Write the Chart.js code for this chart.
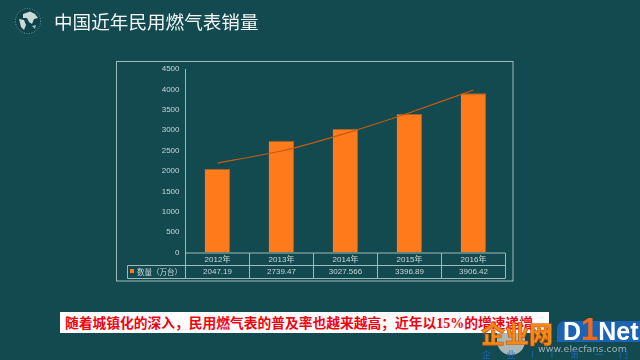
<!DOCTYPE html>
<html>
<head>
<meta charset="utf-8">
<script src="https://cdn.jsdelivr.net/npm/chart.js@4/dist/chart.umd.min.js"></script>
<style>
  html, body { margin: 0; padding: 0; }
  body { width: 640px; height: 360px; background: #124a50; position: relative; overflow: hidden; font-family: "Noto Sans CJK SC", sans-serif; }
  canvas { position: absolute; left: 0; top: 0; }
  .abs { position: absolute; white-space: nowrap; }
  #title { left: 54px; top: 8px; font-size: 18.6px; line-height: 26px; color: #f2f6f6; }
  #note { left: 60px; top: 312px; width: 489px; height: 21px; background: #fff; color: #f5000f; font-size: 13.75px; font-weight: 700; line-height: 21px; text-indent: 5px; }
  #note b { font-family: "Liberation Serif", serif; font-size: 14px; }
  #wmArc { left: 497px; top: 312px; width: 27px; height: 42px; border-radius: 50%; border-right: 1px solid #d8e2e2; }
  #wmCircle { left: 497px; top: 333px; width: 28px; height: 22px; border-radius: 0 0 14px 14px; background: #a9b8ba; }
  #wmCn { left: 481px; top: 319px; font-size: 24px; font-weight: 900; line-height: 28px; color: #f58a16; -webkit-text-stroke: 0.6px #c8500f; }
  #wmBox { left: 557px; top: 321px; width: 83px; height: 21px; background: #1c63b4; border-radius: 8px 0 0 0; }
  #wmLogo { left: 563px; top: 317px; font-family: "Liberation Sans", sans-serif; font-size: 25px; font-weight: 700; line-height: 28px; color: #fff; }
  #wmLogo span { color: #f26a1b; font-size: 31px; line-height: 20px; }
  #wmUrl { left: 538px; top: 343px; font-family: "DejaVu Sans", sans-serif; font-size: 9.4px; line-height: 11px; color: #9fb2b6; letter-spacing: 0.1px; }
  #wmSlogan { left: 482px; top: 349px; font-size: 9px; line-height: 11px; color: #1c63b4; letter-spacing: 15.5px; }
</style>
</head>
<body>
<canvas id="salesChart" width="640" height="360"></canvas>

<svg class="abs" style="left:14px;top:7px" width="28" height="28" viewBox="0 0 28 28">
  <circle cx="14" cy="14" r="12.5" fill="#0f4349" stroke="#6fa3a6" stroke-width="1" stroke-dasharray="1 1.5"/>
  <path d="M9 7 L16 4.5 L21 7 L24 11 L20 12 L18 17 L15 15 L13 11 L9 11 Z" fill="#c9d8d8"/>
  <path d="M5 12 L10 13 L12 18 L10 23 L7 20 Z" fill="#c9d8d8"/>
  <path d="M18 19 L22 18 L21 22 Z" fill="#9fbcbc"/>
</svg>
<div id="title" class="abs">中国近年民用燃气表销量</div>

<div id="note" class="abs">随着城镇化的深入，民用燃气表的普及率也越来越高；近年以<b>15%</b>的增速递增</div>

<div id="wmArc" class="abs"></div>
<div id="wmCircle" class="abs"></div>
<div id="wmBox" class="abs"></div>
<div id="wmLogo" class="abs">D<span>1</span>Net</div>
<div id="wmCn" class="abs">企业网</div>
<div id="wmUrl" class="abs">www.elecfans.com</div>
<div id="wmSlogan" class="abs">企业IT第一门户</div>

<script>
// Values
const years = ['2012年', '2013年', '2014年', '2015年', '2016年'];
const sales = [2047.19, 2739.47, 3027.566, 3396.89, 3906.42];
const trend = [2195, 2489, 2922, 3428, 3985];
const seriesName = '数量（万台）';

const tickColor = '#c6d6d6';
const lineColor = '#9fbaba';
const barColor = '#ff7a1a';
const barEdge = '#a8622a';
const trendColor = '#c55a11';

// Data table under the plot and the outer frame
const tablePlugin = {
  id: 'dataTable',
  afterDraw(chart) {
    const c = chart.ctx;
    const x = chart.scales.x;
    const area = chart.chartArea;
    const step = x.getPixelForTick(1) - x.getPixelForTick(0);
    const top = area.bottom + 0.5;
    const mid = top + 12.5;
    const bottom = top + 25.5;
    const left = Math.floor(area.left) + 0.5;
    const right = Math.floor(area.right) + 0.5;
    const legendLeft = 127.5;

    c.save();
    c.strokeStyle = lineColor;
    c.lineWidth = 1;
    c.strokeRect(116.5, 61.5, 396.5, 219.5);

    c.beginPath();
    c.moveTo(left, top); c.lineTo(right, top);
    c.moveTo(legendLeft, mid); c.lineTo(right, mid);
    c.moveTo(legendLeft, bottom); c.lineTo(right, bottom);
    c.moveTo(legendLeft, mid); c.lineTo(legendLeft, bottom);
    years.forEach((y, i) => {
      const px = Math.floor(x.getPixelForTick(i) - step / 2) + 0.5;
      c.moveTo(px, top); c.lineTo(px, bottom);
    });
    c.moveTo(right, top); c.lineTo(right, bottom);
    c.stroke();

    c.font = '8px "Liberation Sans", "Noto Sans CJK SC", sans-serif';
    c.fillStyle = tickColor;
    c.textBaseline = 'middle';
    c.textAlign = 'center';
    sales.forEach((v, i) => c.fillText(String(v), x.getPixelForTick(i), mid + 6.5));

    c.fillStyle = barColor;
    c.fillRect(130, 269, 4, 4);
    c.fillStyle = tickColor;
    c.textAlign = 'left';
    c.font = '7.5px "Noto Sans CJK SC", sans-serif';
    c.fillText(seriesName, 137, mid + 6.5);
    c.restore();
  }
};

new Chart(document.getElementById('salesChart'), {
  data: {
    labels: years,
    datasets: [
      {
        type: 'line',
        label: '趋势',
        data: trend,
        borderColor: trendColor,
        borderWidth: 1.2,
        pointRadius: 0,
        tension: 0.2,
        order: 0
      },
      {
        type: 'bar',
        label: seriesName,
        data: sales,
        backgroundColor: barColor,
        borderColor: barEdge,
        borderWidth: { top: 1, right: 1, left: 0, bottom: 0 },
        borderSkipped: false,
        barPercentage: 0.4,
        categoryPercentage: 1,
        order: 1
      }
    ]
  },
  options: {
    responsive: false,
    animation: false,
    layout: { padding: { left: 125.5, right: 134.5, top: 69, bottom: 81.5 } },
    plugins: {
      legend: { display: false },
      tooltip: { enabled: false }
    },
    scales: {
      x: {
        grid: { display: false, drawTicks: false },
        border: { display: false },
        ticks: {
          color: tickColor,
          padding: 2,
          maxRotation: 0,
          font: { size: 8, family: '"Liberation Sans", "Noto Sans CJK SC", sans-serif' }
        },
        afterFit(scale) { scale.height = 26; }
      },
      y: {
        min: 0,
        max: 4500,
        grid: { display: false, drawTicks: false },
        border: { display: true, color: lineColor, width: 1 },
        ticks: {
          stepSize: 500,
          color: tickColor,
          padding: 6,
          font: { size: 8, family: '"Liberation Sans", sans-serif' },
          callback: v => String(v)
        },
        afterFit(scale) { scale.width = 60; }
      }
    }
  },
  plugins: [tablePlugin]
});
</script>
</body>
</html>
